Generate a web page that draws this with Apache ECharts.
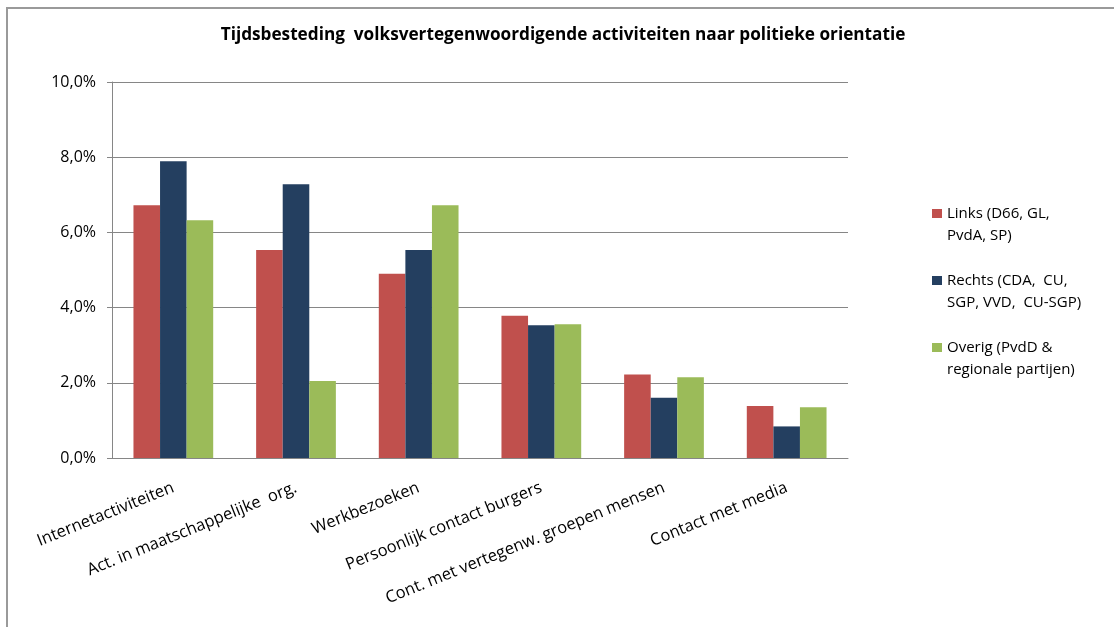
<!DOCTYPE html>
<html>
<head>
<meta charset="utf-8">
<script src="https://cdn.jsdelivr.net/npm/echarts@6/dist/echarts.min.js"></script>
<style>
html,body{margin:0;padding:0;background:#fff;}
#frame{position:absolute;left:6px;top:7px;width:1120px;height:640px;border-left:2px solid #9a9a9a;border-top:2px solid #9a9a9a;}
#chart{position:absolute;left:0;top:0;width:1114px;height:627px;}
</style>
</head>
<body>
<div id="frame"></div>
<div id="chart"></div>
<script>
var categories = ['Internetactiviteiten', 'Act. in maatschappelijke  org.', 'Werkbezoeken', 'Persoonlijk contact burgers', 'Cont. met vertegenw. groepen mensen', 'Contact met media'];
var seriesNames = ['Links (D66, GL,\nPvdA, SP)', 'Rechts (CDA,  CU,\nSGP, VVD,  CU-SGP)', 'Overig (PvdD &\nregionale partijen)'];
var links = [6.72, 5.53, 4.90, 3.78, 2.22, 1.38];
var rechts = [7.89, 7.28, 5.53, 3.53, 1.60, 0.84];
var overig = [6.32, 2.05, 6.72, 3.56, 2.15, 1.35];
var colors = ['#C0504D', '#243F60', '#9BBB59'];
var titleText = 'Tijdsbesteding  volksvertegenwoordigende activiteiten naar politieke orientatie';

var font = '"Open Sans", Lato, sans-serif';
var chart = echarts.init(document.getElementById('chart'));
var datas = [links, rechts, overig];
chart.setOption({
  animation: false,
  textStyle: {fontFamily: font},
  title: {
    text: titleText, left: 558, top: 22, textAlign: 'center',
    textStyle: {fontFamily: font, fontSize: 17.2, fontWeight: 'bold', color: '#000'}
  },
  grid: {left: 112, right: 266, top: 82, bottom: 169},
  legend: {
    orient: 'vertical', left: 927, top: 179, itemWidth: 10, itemHeight: 9, itemGap: 8,
    icon: 'rect',
    formatter: function (name) {
      return '{e| }\n' + name.split('\n').map(function (s) { return '{t|' + s + '}'; }).join('\n');
    },
    textStyle: {
      fontFamily: font, fontSize: 15, color: '#000',
      rich: {
        e: {lineHeight: 22, fontSize: 15},
        t: {lineHeight: 22, fontSize: 15, fontFamily: font, color: '#000'}
      }
    },
    data: seriesNames
  },
  xAxis: {
    type: 'category', data: categories,
    axisLine: {lineStyle: {color: '#868686', width: 1}},
    axisTick: {show: false},
    axisLabel: {rotate: 22, interval: 0, fontFamily: font, fontSize: 16.5, color: '#000', margin: 29}
  },
  yAxis: {
    type: 'value', min: 0, max: 10, interval: 2,
    axisLine: {show: true, lineStyle: {color: '#868686'}},
    axisTick: {show: true, length: 5, lineStyle: {color: '#868686'}},
    splitLine: {lineStyle: {color: '#868686', width: 1}},
    axisLabel: {fontFamily: font, fontSize: 16, color: '#000', margin: 16,
      formatter: function (v) { return v.toFixed(1).replace('.', ',') + '%'; }}
  },
  series: seriesNames.map(function (n, i) {
    return {name: n, type: 'bar', data: datas[i], barGap: '0%', barCategoryGap: '35%',
      itemStyle: {color: colors[i]}};
  })
});
</script>
</body>
</html>
